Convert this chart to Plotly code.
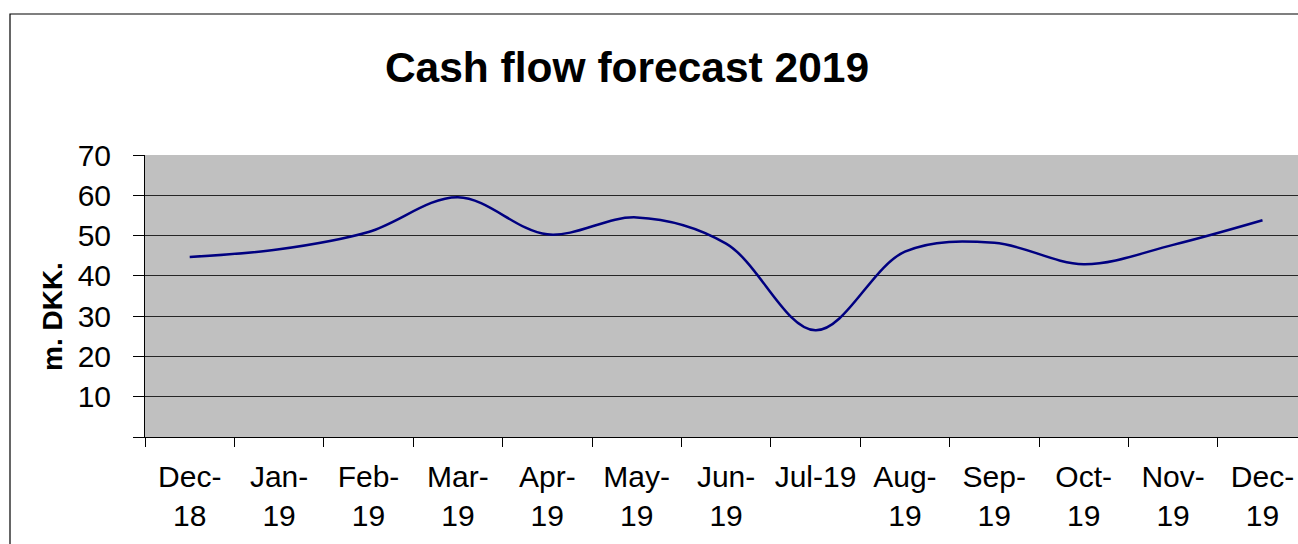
import plotly.graph_objects as go

# Monthly cash flow forecast, million DKK
months = ["Dec-<br>18", "Jan-<br>19", "Feb-<br>19", "Mar-<br>19", "Apr-<br>19",
          "May-<br>19", "Jun-<br>19", "Jul-19", "Aug-<br>19", "Sep-<br>19",
          "Oct-<br>19", "Nov-<br>19", "Dec-<br>19"]
cash_flow = [44.7, 46.6, 50.9, 59.5, 50.3, 54.5, 48.0, 26.5, 46.0, 48.2, 42.9, 47.7, 53.8]

y_ticks = [0, 10, 20, 30, 40, 50, 60, 70]
y_tick_text = ["", "10", "20", "30", "40", "50", "60", "70"]

FONT = "Liberation Sans, Arial, sans-serif"

W, H = 1298, 544
L, R, T, B = 145, 0, 155, 107
pw, ph = W - L - R, H - T - B

fig = go.Figure()
fig.add_trace(go.Scatter(
    x=months,
    y=cash_flow,
    mode="lines",
    line=dict(color="#000080", width=2.5, shape="spline", smoothing=1.0),
    hoverinfo="skip",
))

fig.update_layout(
    width=W, height=H,
    margin=dict(l=L, r=R, t=T, b=B, pad=0),
    paper_bgcolor="white",
    plot_bgcolor="#C0C0C0",
    showlegend=False,
    font=dict(family=FONT, color="black"),
    title=dict(
        text="<b>Cash flow forecast 2019</b>",
        font=dict(family=FONT, size=42.5, color="black"),
        x=(627 - L) / pw, xref="paper", xanchor="center",
        y=1 - 67 / H, yref="container", yanchor="middle",
    ),
    xaxis=dict(
        type="category",
        categoryorder="array", categoryarray=months,
        range=[-0.5, -0.5 + pw / 89.4],
        tickson="boundaries",
        showgrid=False, zeroline=False,
        showline=True, linecolor="black", linewidth=1,
        ticks="outside", ticklen=9, tickcolor="black", tickwidth=1,
        ticklabelstandoff=13,
        tickfont=dict(family=FONT, size=30, color="black"),
        tickangle=0,
    ),
    yaxis=dict(
        range=[0, 70],
        tickmode="array", tickvals=y_ticks, ticktext=y_tick_text,
        showgrid=True, gridcolor="#262626", gridwidth=1,
        zeroline=False,
        showline=True, linecolor="black", linewidth=1,
        ticks="outside", ticklen=11, tickcolor="black", tickwidth=1,
        ticklabelstandoff=16,
        tickfont=dict(family=FONT, size=30, color="black"),
    ),
)

# vertical axis title
fig.add_annotation(
    text="<b>m. DKK.</b>", textangle=-90, showarrow=False,
    xref="paper", yref="paper",
    x=(52 - L) / pw, y=(H - B - 317) / ph,
    xanchor="center", yanchor="middle",
    font=dict(family=FONT, size=28, color="black"),
)

# chart frame
fig.add_shape(
    type="rect", xref="paper", yref="paper",
    x0=(10 - L) / pw, x1=(W + 5 - L) / pw,
    y0=-(B + 5) / ph, y1=1 + (T - 14) / ph,
    line=dict(color="black", width=1.2), fillcolor="rgba(0,0,0,0)", layer="above",
)

fig.write_html("out.html")
